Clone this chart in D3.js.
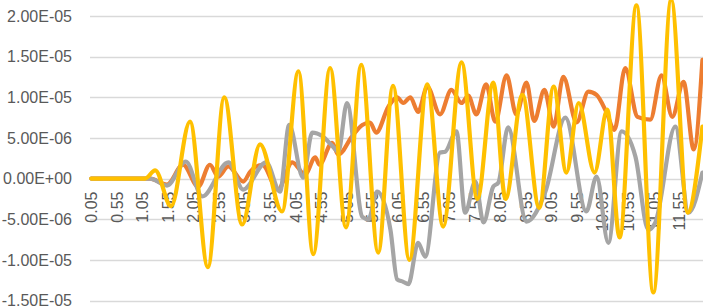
<!DOCTYPE html>
<html>
<head>
<meta charset="utf-8">
<script src="https://cdn.jsdelivr.net/npm/d3@7"></script>
<style>
  body { margin: 0; background: #fff; }
  #chart text { font-family: "Liberation Sans", Arial, sans-serif; fill: #595959; }
</style>
</head>
<body>
<div id="chart"></div>
<script>
// values in units of 1e-6, x is the category value (0.05 step data, read at turning points)
const orangeX = [0.05, 1.2, 1.53, 1.845, 2.14, 2.37, 2.53, 2.73, 3.02, 3.16, 3.39, 3.70, 3.98, 4.23, 4.43, 4.51, 4.76, 4.88, 5.15, 5.35, 5.50, 5.62, 5.86, 6.03, 6.15, 6.29, 6.44, 6.62, 6.87, 7.09, 7.29, 7.42, 7.58, 7.77, 7.95, 8.17, 8.36, 8.56, 8.71, 8.91, 9.09, 9.28, 9.54, 9.77, 9.93, 10.12, 10.28, 10.49, 10.73, 10.98, 11.20, 11.41, 11.63, 11.83, 12.0];
const orangeY = [0, 0, -0.74, 1.7, -1.0, 1.7, 0.25, 1.5, -0.37, 0.86, 1.7, -1.35, 2.0, 0.5, 2.6, 1.7, 4.4, 2.95, 5.2, 6.6, 6.9, 5.65, 8.85, 10.0, 9.3, 10.0, 8.2, 11.3, 7.9, 10.9, 9.3, 10.2, 7.9, 11.6, 7.0, 12.7, 7.9, 11.8, 7.1, 10.9, 6.4, 12.5, 6.9, 10.7, 10.3, 8.2, 6.0, 13.6, 7.6, 7.25, 12.7, 7.6, 11.9, 3.6, 14.6];

const grayX = [0.05, 1.2, 1.53, 1.90, 2.22, 2.73, 3.02, 3.47, 3.74, 3.92, 4.19, 4.37, 4.57, 4.78, 4.88, 5.05, 5.35, 5.47, 5.64, 5.90, 6.03, 6.15, 6.25, 6.44, 6.58, 6.87, 6.97, 7.19, 7.36, 7.56, 7.72, 7.91, 8.01, 8.20, 8.56, 8.93, 9.32, 9.73, 9.93, 10.16, 10.42, 10.69, 10.94, 11.08, 11.47, 11.73, 12.0];
const grayY = [0, 0, -0.86, 2.1, -2.2, 2.0, -1.35, 2.0, -1.6, 6.6, 0.12, 5.65, 5.2, 3.9, 3.3, 9.3, -4.7, -5.0, -1.6, -6.3, -12.4, -12.7, -13.0, -7.9, -9.6, 3.2, 3.3, 5.8, -4.2, -0.37, -5.4, -1.0, -0.5, 6.3, -5.3, -1.6, 7.5, -4.05, 0.25, -7.9, 5.8, 2.7, -6.3, -5.4, 6.4, -4.2, 0.74];

const goldX = [0.05, 1.1, 1.30, 1.61, 1.98, 2.33, 2.65, 3.00, 3.35, 3.78, 4.10, 4.39, 4.72, 5.03, 5.33, 5.66, 5.95, 6.27, 6.62, 6.93, 7.29, 7.60, 7.91, 8.15, 8.48, 8.81, 9.09, 9.34, 9.58, 9.89, 10.14, 10.38, 10.71, 11.04, 11.39, 11.71, 12.0];
const goldY = [0, 0, 1.0, -3.4, 7.0, -10.9, 10.0, -5.65, 4.2, -4.05, 13.2, -9.3, 13.6, -6.0, 14.0, -9.1, 11.4, -10.0, 11.6, -5.9, 14.3, -2.5, 11.8, -2.5, 10.3, -3.6, 11.3, 0.74, 9.3, 0.74, 8.5, -7.25, 21.3, -14.0, 22.0, -4.2, 6.4];

const xTickLabels = ["0.05", "0.55", "1.05", "1.55", "2.05", "2.55", "3.05", "3.55", "4.05", "4.55", "5.05", "5.55", "6.05", "6.55", "7.05", "7.55", "8.05", "8.55", "9.05", "9.55", "10.05", "10.55", "11.05", "11.55"];
const yTicks = [20e-6, 15e-6, 10e-6, 5e-6, 0, -5e-6, -10e-6, -15e-6];
const yTickLabels = ["2.00E-05", "1.50E-05", "1.00E-05", "5.00E-06", "0.00E+00", "-5.00E-06", "-1.00E-05", "-1.50E-05"];

const width = 703, height = 307;
const left = 90, right = 703.7;

const svg = d3.select("#chart").append("svg")
  .attr("width", width)
  .attr("height", height);

const x = d3.scaleLinear().domain([0.025, 12.025]).range([left, right]);
const y = d3.scaleLinear().domain([-15e-6, 20e-6]).range([300.5, 16]);

// gridlines
svg.append("g")
  .selectAll("line")
  .data(yTicks)
  .enter().append("line")
  .attr("x1", left)
  .attr("x2", width)
  .attr("y1", d => Math.round(y(d)) + 0.5)
  .attr("y2", d => Math.round(y(d)) + 0.5)
  .attr("stroke", "#d9d9d9")
  .attr("stroke-width", 1.3);

// y labels
svg.append("g")
  .selectAll("text")
  .data(yTicks)
  .enter().append("text")
  .attr("x", 72)
  .attr("y", d => y(d))
  .attr("dy", "0.36em")
  .attr("text-anchor", "end")
  .attr("font-size", "16px")
  .text((d, i) => yTickLabels[i]);

// x labels, rotated, hanging below the zero line
svg.append("g")
  .selectAll("text")
  .data(xTickLabels)
  .enter().append("text")
  .attr("transform", d => `translate(${x(+d)},${y(0) + 13}) rotate(-90)`)
  .attr("dy", "0.36em")
  .attr("text-anchor", "end")
  .attr("font-size", "16px")
  .text(d => d);

const line = d3.line()
  .x(d => x(d[0]))
  .y(d => y(d[1] * 1e-6))
  .curve(d3.curveMonotoneX);

const series = [
  { xs: orangeX, ys: orangeY, color: "#ED7D31" },
  { xs: grayX, ys: grayY, color: "#A5A5A5" },
  { xs: goldX, ys: goldY, color: "#FFC000" }
];

series.forEach(s => {
  svg.append("path")
    .datum(s.xs.map((v, i) => [v, s.ys[i]]))
    .attr("d", line)
    .attr("fill", "none")
    .attr("stroke", s.color)
    .attr("stroke-width", 4.2)
    .attr("stroke-linejoin", "round")
    .attr("stroke-linecap", "round");
});
</script>
</body>
</html>
